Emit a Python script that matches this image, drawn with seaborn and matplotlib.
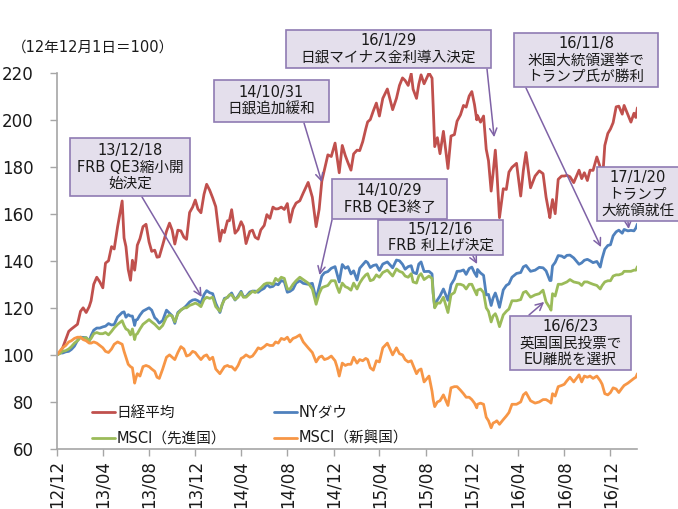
import pandas as pd
import seaborn as sns
import matplotlib.pyplot as plt
from matplotlib.patches import Rectangle

# 日付（12年12月1日＝100）
dates = [
    '2012-12-01', '2012-12-08', '2012-12-16', '2012-12-24', '2013-01-01', '2013-01-08', '2013-01-16', '2013-01-24', '2013-02-01', '2013-02-08',
    '2013-02-16', '2013-02-24', '2013-03-01', '2013-03-08', '2013-03-16', '2013-03-24', '2013-04-01', '2013-04-08', '2013-04-16', '2013-04-24',
    '2013-05-01', '2013-05-10', '2013-05-22', '2013-05-27', '2013-06-01', '2013-06-07', '2013-06-13', '2013-06-18', '2013-06-24', '2013-06-27',
    '2013-07-01', '2013-07-08', '2013-07-16', '2013-07-24', '2013-08-01', '2013-08-08', '2013-08-16', '2013-08-22', '2013-08-28', '2013-09-06',
    '2013-09-16', '2013-09-24', '2013-10-01', '2013-10-08', '2013-10-16', '2013-10-24', '2013-11-01', '2013-11-08', '2013-11-16', '2013-11-24',
    '2013-12-01', '2013-12-08', '2013-12-16', '2013-12-24', '2013-12-31', '2014-01-08', '2014-01-16', '2014-01-24', '2014-02-04', '2014-02-10',
    '2014-02-16', '2014-02-24', '2014-03-01', '2014-03-07', '2014-03-16', '2014-03-24', '2014-04-01', '2014-04-07', '2014-04-14', '2014-04-24',
    '2014-05-01', '2014-05-08', '2014-05-16', '2014-05-23', '2014-06-01', '2014-06-08', '2014-06-16', '2014-06-24', '2014-07-01', '2014-07-08',
    '2014-07-16', '2014-07-24', '2014-08-01', '2014-08-08', '2014-08-16', '2014-08-24', '2014-09-03', '2014-09-12', '2014-09-25', '2014-10-06',
    '2014-10-16', '2014-10-24', '2014-10-31', '2014-11-07', '2014-11-16', '2014-11-25', '2014-12-05', '2014-12-10', '2014-12-16', '2014-12-24',
    '2015-01-01', '2015-01-08', '2015-01-16', '2015-01-23', '2015-02-01', '2015-02-08', '2015-02-16', '2015-02-24', '2015-03-01', '2015-03-08',
    '2015-03-16', '2015-03-24', '2015-04-01', '2015-04-10', '2015-04-22', '2015-05-06', '2015-05-16', '2015-05-24', '2015-06-01', '2015-06-08',
    '2015-06-16', '2015-06-24', '2015-06-29', '2015-07-08', '2015-07-14', '2015-07-20', '2015-07-28', '2015-08-10', '2015-08-18', '2015-08-21',
    '2015-08-25', '2015-09-01', '2015-09-08', '2015-09-17', '2015-09-29', '2015-10-07', '2015-10-16', '2015-10-23', '2015-11-01', '2015-11-09',
    '2015-11-16', '2015-11-24', '2015-12-01', '2015-12-08', '2015-12-14', '2015-12-16', '2015-12-24', '2016-01-01', '2016-01-08', '2016-01-14',
    '2016-01-21', '2016-01-26', '2016-02-01', '2016-02-05', '2016-02-12', '2016-02-22', '2016-03-01', '2016-03-08', '2016-03-16', '2016-03-28',
    '2016-04-08', '2016-04-15', '2016-04-22', '2016-05-04', '2016-05-16', '2016-05-27', '2016-06-06', '2016-06-14', '2016-06-24', '2016-06-27',
    '2016-07-01', '2016-07-08', '2016-07-16', '2016-07-25', '2016-08-01', '2016-08-08', '2016-08-16', '2016-08-26', '2016-09-09', '2016-09-16',
    '2016-09-23', '2016-10-01', '2016-10-08', '2016-10-16', '2016-10-26', '2016-11-04', '2016-11-09', '2016-11-16', '2016-11-24', '2016-12-01',
    '2016-12-08', '2016-12-16', '2016-12-23', '2017-01-01', '2017-01-06', '2017-01-16', '2017-01-24', '2017-02-01', '2017-02-06', '2017-02-10',
]

nikkei = [
    100, 101, 103, 106.5, 110, 111, 112, 113, 118.5, 120,
    118, 120.5, 123, 130, 133, 131, 128.5, 139, 140, 146,
    145, 154.5, 165.4, 149.7, 146, 136.3, 131.7, 140.2, 136, 139.9,
    146.6, 149.4, 154.5, 155.5, 148, 144, 144.5, 141.5, 141.7, 146.7,
    152.5, 156, 153, 147.1, 153, 152.7, 150, 149.1, 160.5, 162.8,
    165.8, 162, 160.4, 168.2, 172.5, 170, 166.7, 163, 148.3, 153,
    152, 157, 157, 161.7, 151.7, 153.2, 156.6, 154.6, 147.3, 152.5,
    153, 150, 149.2, 153.1, 155, 159.6, 158, 162.8, 162, 162.1,
    162.8, 161.8, 164.3, 156.4, 162, 164.5, 165.5, 168.8, 173.3, 167,
    154.5, 161.9, 173.8, 178.7, 185, 184.3, 190, 184.3, 177.4, 189,
    184.7, 181.7, 178.5, 185.4, 187, 186.8, 190.6, 196, 199, 200,
    203.7, 207, 201.5, 209, 213, 204.2, 209, 214.5, 217.7, 216.6,
    214.5, 219.5, 212.9, 209, 215, 219, 215.2, 219.8, 217.6, 205.7,
    188.5, 192.3, 185.5, 195, 179.2, 193, 193.6, 199.3, 202, 206,
    205.3, 210, 211.9, 206.4, 199.9, 201.7, 198.9, 201.5, 187.4, 182.5,
    169.6, 177, 187, 178, 158.3, 170.6, 170.3, 177.7, 179.7, 181.4,
    167.5, 178.4, 186, 171, 176, 178.2, 177, 167, 158.3, 162,
    166, 160, 174.6, 176, 176, 176.3, 175.7, 173.2, 178.5, 174.9,
    177.4, 174.1, 178.5, 178.4, 184.1, 179.7, 172, 189, 194.1, 196,
    198.7, 205.4, 205.7, 202.3, 206, 202, 198.9, 202.7, 200.9, 205,
]

nydow = [
    100, 100.8, 100.8, 101.3, 101.5, 102.3, 103.7, 106.1, 107.5, 107.4,
    107.3, 105.8, 108.2, 110.5, 111.4, 111.4, 111.9, 112.2, 113.3, 112.7,
    112.9, 116.1, 118, 118.3, 116, 117.1, 116.5, 116.5, 112.5, 114.8,
    115, 116.9, 118.6, 119.3, 120, 119, 115.8, 114.9, 113.5, 114.6,
    119, 117.7, 116.6, 113.4, 118, 119.1, 119.9, 121, 122.5, 123.3,
    123.5, 123, 122, 125.6, 127.3, 126.4, 126, 121.9, 118, 121.3,
    124, 124.4, 125.3, 126.3, 123.3, 125, 127, 124.7, 124.8, 126.7,
    127.1, 127.1, 126.6, 127.5, 128.3, 129.9, 128.8, 129.1, 130.2, 129.8,
    131.6, 131.1, 126.6, 127, 127.9, 130.5, 131.5, 130.4, 130, 130.4,
    123.7, 129, 133.5, 134.9, 135.4, 136.8, 137.5, 134.6, 131, 138.4,
    136.8, 137.5, 134.4, 135.7, 131.8, 136.8, 138.3, 139.8, 139.2, 137.1,
    138, 138.3, 135.9, 138.6, 139.5, 137, 140.3, 140, 138.5, 136.4,
    137.5, 137.9, 135.1, 134.5, 138.6, 139.5, 135.4, 135.5, 134.4, 126.4,
    120.3, 123.3, 125, 128, 123.2, 129.8, 132.2, 135.5, 135.6, 136.1,
    134.2, 136.7, 137.3, 134.9, 133.3, 136.3, 134.8, 133.8, 125.5, 125.7,
    121, 124.1, 126.3, 124.4, 120.2, 127.6, 129.5, 130.2, 133, 134.6,
    135, 137.4, 138, 135.5, 136, 137.2, 137, 135.7, 131.6, 131.6,
    137.8, 139.3, 142.2, 142, 141.3, 142.3, 142.4, 141.2, 138.5, 139.1,
    140.2, 140.6, 140, 139.2, 139.7, 137.3, 141, 144.9, 146.5, 146.8,
    150.6, 152.3, 153, 151.7, 153.3, 152.7, 152.9, 152.7, 153.9, 155.6,
]

msci_dev = [
    100, 100.5, 101.5, 101.8, 102.5, 103.5, 105, 106, 107.5, 107,
    107.3, 106, 107, 109, 109.5, 109, 109, 109.5, 108.5, 110,
    111.5, 113, 114.5, 112.5, 111, 110.5, 108.5, 111, 106.5, 108.5,
    109, 111, 113, 114, 115, 114, 113, 112, 111, 112.5,
    116, 117, 116.5, 114, 117.5, 119, 120, 120, 121, 121.5,
    122, 121.5, 120.5, 123.5, 124.5, 124, 124.5, 120.5, 118.5, 121.5,
    123.5, 124.5, 125.5, 125.5, 123.5, 124.5, 126.5, 124.5, 124.5, 126,
    127, 126.5, 127.5, 128.5, 130, 130.5, 130.5, 130, 132.5, 131.5,
    133, 132.5, 128, 128, 130, 131.5, 133, 132, 130.5, 128,
    121.5, 126, 128.5, 129, 129.5, 131.5, 131.5, 129, 126.5, 130.5,
    129, 128.5, 127.5, 130.5, 128, 130.5, 132.5, 134, 134.5, 131.5,
    132, 134, 133, 135, 136, 133.5, 136.5, 135.5, 135, 133.5,
    133, 134.5, 131, 130.5, 133.5, 134.5, 132, 133.5, 132.5, 126,
    120, 122, 122, 124.5, 118, 125.5, 126.5, 130, 130, 129.5,
    128, 130, 130, 127.5, 125.5, 127.5, 128, 126.5, 120, 118.5,
    114, 116.5, 117.5, 116, 112, 117, 118.5, 119.5, 123, 123,
    123.5, 126.5, 127, 124.5, 125.5, 126, 127.5, 122.5, 120, 119,
    126, 125, 130, 130, 130.5, 131, 132, 131, 130.5, 129.5,
    131, 131, 130.5, 130, 129.5, 128, 129.5, 131, 131.5, 131.5,
    133.5, 134, 134, 134.5, 135.5, 135.5, 135.5, 136, 136, 137.5,
]

msci_em = [
    100, 101.5, 103, 104, 105.5, 106, 107, 107.5, 107.5, 106.5,
    106, 105, 105, 105.5, 105, 104, 103, 101.5, 101, 102.5,
    104.5, 105.5, 104.5, 101.5, 99, 96, 95, 94.5, 88, 90,
    92, 91, 95, 95.5, 95, 94, 93, 90.5, 90, 94,
    99, 100, 99, 98, 101, 103.5, 102.5, 99.5, 100, 101.5,
    101, 99.5, 98, 99.5, 100, 98, 99, 94, 92, 93.5,
    95, 95.5, 95, 95, 93.5, 95.5, 98.5, 99, 100, 99,
    99.5, 101, 103, 102.5, 103.5, 104.5, 104, 104, 105.5, 105,
    107, 106.5, 107.5, 105.5, 107, 107.5, 108.5, 105.5, 103, 101,
    97, 99, 99.5, 98, 98.5, 99.5, 97.5, 95, 91, 96.5,
    95.5, 96, 96, 99, 96.5, 98, 97.5, 98.5, 98, 94.5,
    93.5, 97.5, 97, 103, 105, 100, 103, 100.5, 100, 98,
    97, 97.5, 95.5, 92, 93.5, 94, 88.5, 91, 84.5, 81,
    78, 80, 80.5, 83, 78.5, 86, 86.5, 86.5, 85, 83.5,
    82, 82, 81, 79.5, 77.5, 79, 79.5, 79, 73.5, 72,
    69, 71, 71.5, 72, 70.5, 72.5, 74, 75.5, 79, 79,
    80, 83, 84, 80.5, 79.5, 80, 81, 81, 80, 79.5,
    83.5, 82.5, 86.5, 87, 87.5, 89, 90.5, 88.5, 91.5, 88.5,
    91, 90.5, 91, 90, 91, 89, 87.5, 83.5, 83, 84,
    86, 85.5, 84, 86, 87, 88, 89, 90, 90.5, 92,
]

series_names = ['日経平均', 'NYダウ', 'MSCI（先進国）', 'MSCI（新興国）']
colors = ['#C0504D', '#4F81BD', '#9BBB59', '#F79646']

tick_dates = ['2012-12-01', '2013-04-01', '2013-08-01', '2013-12-01', '2014-04-01',
              '2014-08-01', '2014-12-01', '2015-04-01', '2015-08-01', '2015-12-01',
              '2016-04-01', '2016-08-01', '2016-12-01']
tick_labels = ['12/12', '13/04', '13/08', '13/12', '14/04', '14/08', '14/12',
               '15/04', '15/08', '15/12', '16/04', '16/08', '16/12']
y_ticks = [60, 80, 100, 120, 140, 160, 180, 200, 220]

# 注記: テキスト, 枠(px: x0, y0, x1, y1), 矢印の起点(px), 矢印の先(日付, 値)
notes = [
    ('13/12/18\nFRB QE3縮小開\n始決定', (70, 138, 190, 196), (142, 197), ('2013-12-18', 124.6)),
    ('14/10/31\n日銀追加緩和', (214, 80, 329, 122), (304, 123), ('2014-10-31', 173.4)),
    ('16/1/29\n日銀マイナス金利導入決定', (286, 30, 491, 68), (487, 69), ('2016-01-29', 192.5)),
    ('16/11/8\n米国大統領選挙で\nトランプ氏が勝利', (514, 33, 658, 87), (526, 88), ('2016-11-06', 145.8)),
    ('17/1/20\nトランプ\n大統領就任', (597, 167, 690, 221), (628, 222), ('2017-01-18', 153.5)),
    ('14/10/29\nFRB QE3終了', (332, 179, 447, 219), (332, 220), ('2014-10-25', 133.9)),
    ('15/12/16\nFRB 利上げ決定', (378, 220, 503, 255), (473, 256), ('2015-12-15', 138.6)),
    ('16/6/23\n英国国民投票で\nEU離脱を選択', (510, 316, 631, 370), (529, 315), ('2016-06-09', 122.5)),
]

W, H = 678, 509

sns.set_theme(style='white')
plt.rcParams['font.family'] = ['DejaVu Sans', 'Noto Sans CJK JP']
plt.rcParams['text.color'] = '#1a1a1a'

frames = []
for name, vals in zip(series_names, [nikkei, nydow, msci_dev, msci_em]):
    frames.append(pd.DataFrame({'date': pd.to_datetime(dates), 'value': vals, 'series': name}))
df = pd.concat(frames, ignore_index=True)

fig = plt.figure(figsize=(W / 100, H / 100), dpi=100)
ax = fig.add_axes([57 / W, 60 / H, 580 / W, 376.5 / H])

sns.lineplot(data=df, x='date', y='value', hue='series', hue_order=series_names,
             palette=colors, linewidth=2.0, ax=ax)

ax.set_xlim(pd.Timestamp('2012-12-01'), pd.Timestamp('2017-02-09'))
ax.set_ylim(60, 220)
ax.set_xticks(pd.to_datetime(tick_dates))
ax.set_xticklabels(tick_labels, rotation=90)
ax.set_yticks(y_ticks)
ax.set_xlabel('')
ax.set_ylabel('')

for s in ['top', 'right']:
    ax.spines[s].set_visible(False)
for s in ['left', 'bottom']:
    ax.spines[s].set_color('#A6A6A6')
    ax.spines[s].set_linewidth(1.2)
ax.tick_params(axis='both', which='major', direction='out', length=5, width=1.0,
               color='#A6A6A6', labelsize=12, labelcolor='#1a1a1a')
ax.tick_params(axis='y', pad=12, left=True)
ax.tick_params(axis='x', pad=3, bottom=True)

handles, labels = ax.get_legend_handles_labels()
order = [0, 2, 1, 3]
ax.legend([handles[i] for i in order], [labels[i] for i in order], ncol=2,
          frameon=False, loc='lower left', bbox_to_anchor=(0.037, -0.027),
          fontsize=10.5, handlelength=1.6, handletextpad=0.1,
          columnspacing=3.3, labelspacing=0.75)

fig.text(12 / W, 1 - 47 / H, '（12年12月1日＝100）', fontsize=10.5, va='center', ha='left')

for text, (x0, y0, x1, y1), (sx, sy), (d, v) in notes:
    ax.annotate('', xy=(pd.Timestamp(d), v), xycoords='data',
                xytext=(sx, H - sy), textcoords='figure pixels',
                arrowprops=dict(arrowstyle='->', color='#7F62A6', lw=1.1,
                                shrinkA=0, shrinkB=0, mutation_scale=13),
                annotation_clip=False)
    fig.add_artist(Rectangle((x0 / W, 1 - y1 / H), (x1 - x0) / W, (y1 - y0) / H,
                             transform=fig.transFigure, facecolor='#E4DFEC',
                             edgecolor='#8F7BB3', linewidth=1.2, zorder=5))
    fig.text((x0 + x1) / 2 / W if x1 <= W else (x0 + x1 - 12) / 2 / W,
             1 - (y0 + y1) / 2 / H, text, ha='center', va='center',
             fontsize=10.5, linespacing=1.1, zorder=6)

fig.savefig('out.png', dpi=100)
